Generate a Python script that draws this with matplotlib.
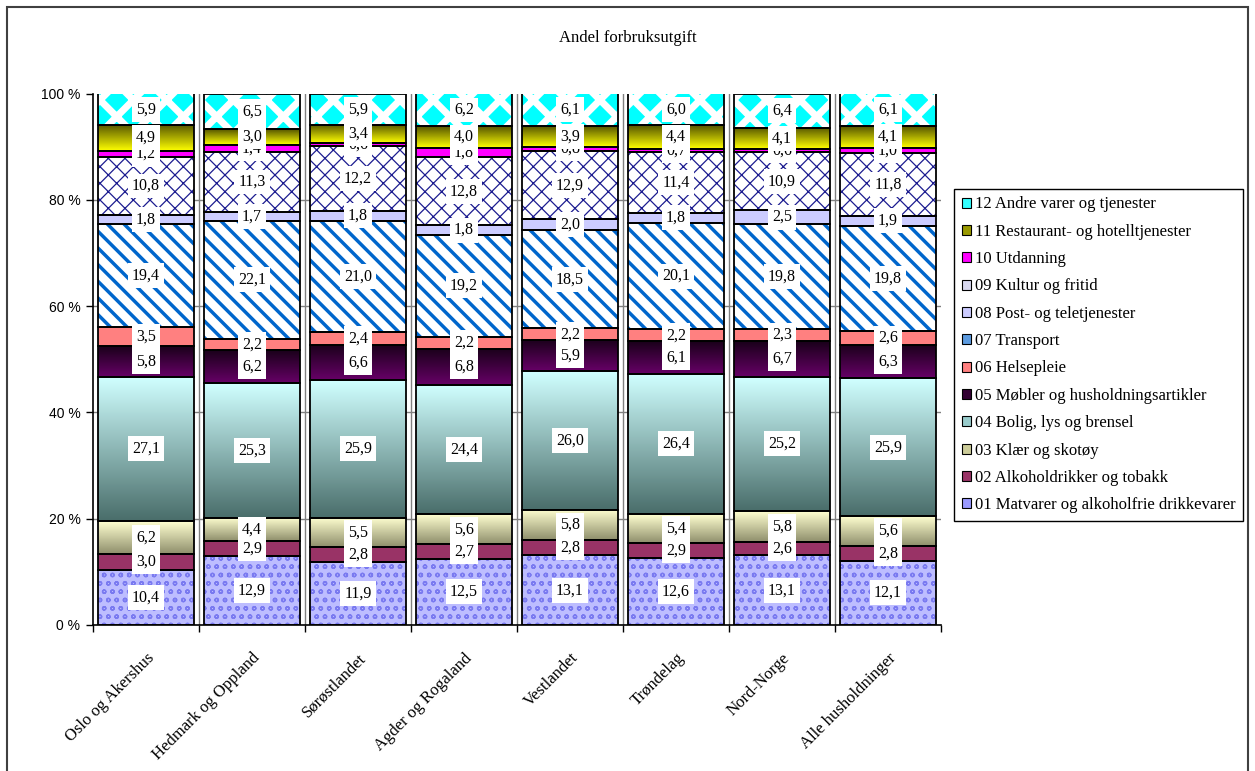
import matplotlib
matplotlib.use('Agg')
import matplotlib.pyplot as plt
import matplotlib.patches as patches
from matplotlib.colors import LinearSegmentedColormap
import numpy as np

# Data (andel forbruksutgift, prosent)
regions = ['Oslo og Akershus', 'Hedmark og Oppland', 'Sørøstlandet', 'Agder og Rogaland',
           'Vestlandet', 'Trøndelag', 'Nord-Norge', 'Alle husholdninger']
matvarer = [10.4, 12.9, 11.9, 12.5, 13.1, 12.6, 13.1, 12.1]
alkohol = [3.0, 2.9, 2.8, 2.7, 2.8, 2.9, 2.6, 2.8]
klaer = [6.2, 4.4, 5.5, 5.6, 5.8, 5.4, 5.8, 5.6]
bolig = [27.1, 25.3, 25.9, 24.4, 26.0, 26.4, 25.2, 25.9]
mobler = [5.8, 6.2, 6.6, 6.8, 5.9, 6.1, 6.7, 6.3]
helse = [3.5, 2.2, 2.4, 2.2, 2.2, 2.2, 2.3, 2.6]
transport = [19.4, 22.1, 21.0, 19.2, 18.5, 20.1, 19.8, 19.8]
post = [1.8, 1.7, 1.8, 1.8, 2.0, 1.8, 2.5, 1.9]
kultur = [10.8, 11.3, 12.2, 12.8, 12.9, 11.4, 10.9, 11.8]
utdanning = [1.2, 1.4, 0.6, 1.8, 0.8, 0.7, 0.6, 1.0]
restaurant = [4.9, 3.0, 3.4, 4.0, 3.9, 4.4, 4.1, 4.1]
andre = [5.9, 6.5, 5.9, 6.2, 6.1, 6.0, 6.4, 6.1]

names = ['01 Matvarer og alkoholfrie drikkevarer', '02 Alkoholdrikker og tobakk',
         '03 Klær og skotøy', '04 Bolig, lys og brensel', '05 Møbler og husholdningsartikler',
         '06 Helsepleie', '07 Transport', '08 Post- og teletjenester', '09 Kultur og fritid',
         '10 Utdanning', '11 Restaurant- og hotelltjenester', '12 Andre varer og tjenester']
series = [matvarer, alkohol, klaer, bolig, mobler, helse, transport, post, kultur,
          utdanning, restaurant, andre]

# style per series: face, hatch, hatch colour, hatch lw, gradient (bottom, top), legend colour
styles = [
    dict(fc='#bdbdff', hatch='oo', hc='#7a7af0', hlw=1.0, lc='#9999ff'),
    dict(fc='#993366'),
    dict(fc='#cccc99', grad=('#8f8f6c', '#ffffd0')),
    dict(fc='#99cccc', grad=('#4a6e6b', '#d0ffff')),
    dict(fc='#330033', grad=('#660066', '#1a001a')),
    dict(fc='#ff8080'),
    dict(fc='white', hatch='\\\\', hc='#0066cc', hlw=2.5, lc='#5c9be0'),
    dict(fc='#ccccff'),
    dict(fc='white', hatch='xx', hc='#1c1c90', hlw=0.9, lc='#d8d8f0'),
    dict(fc='#ff00ff'),
    dict(fc='#999900', grad=('#ffff00', '#555500')),
    dict(fc='#00ffff', hatch='x', hc='white', hlw=5.0, lc='#33ffff'),
]

SERIF = 'Liberation Serif'
SANS = 'Liberation Sans'

fig = plt.figure(figsize=(12.55, 7.71), dpi=100)
ax = fig.add_axes([93 / 1255, 1 - 625 / 771, (941 - 93) / 1255, (625 - 93.5) / 771])

x = np.arange(len(regions))
width = 0.9
bottom = np.zeros(len(regions))
for i, (vals, st) in enumerate(zip(series, styles)):
    vals = np.array(vals)
    if 'hatch' in st:
        with plt.rc_context({'hatch.linewidth': st['hlw']}):
            bars = ax.bar(x, vals, width, bottom=bottom, color=st['fc'], edgecolor=st['hc'],
                          hatch=st['hatch'], linewidth=0, zorder=2)
    else:
        bars = ax.bar(x, vals, width, bottom=bottom, color=st['fc'], linewidth=0, zorder=2)
    if 'grad' in st:
        cmap = LinearSegmentedColormap.from_list('g%d' % i, list(st['grad']))
        grad = np.linspace(0, 1, 64).reshape(-1, 1)
        for p in bars.patches:
            im = ax.imshow(grad, cmap=cmap, origin='lower', aspect='auto',
                           extent=(p.get_x(), p.get_x() + p.get_width(),
                                   p.get_y(), p.get_y() + p.get_height()),
                           interpolation='bilinear', zorder=2.5)
            im.set_clip_path(p)
    # black segment outlines
    ax.bar(x, vals, width, bottom=bottom, fill=False, edgecolor='black', linewidth=1.3, zorder=3)
    # data labels (later series cover earlier ones, as in the original)
    for xi, b, v in zip(x, bottom, vals):
        ax.text(xi, b + v / 2, f'{v:.1f}'.replace('.', ','), ha='center', va='center',
                fontsize=11.5, family=SERIF, zorder=10 + i,
                bbox=dict(boxstyle='square,pad=0.28', fc='white', ec='none'))
    bottom = bottom + vals

ax.set_xlim(-0.5, len(regions) - 0.5)
ax.set_ylim(0, 100)

ax.set_yticks(np.arange(0, 101, 20))
ax.set_yticklabels([f'{v} %' for v in range(0, 101, 20)], family=SANS, fontsize=10)
ax.set_xticks(x)
ax.set_xticklabels(regions, rotation=45, ha='right', va='top', rotation_mode='anchor',
                   family=SERIF, fontsize=12)
ax.set_xticks(np.arange(-0.5, len(regions)), minor=True)
ax.tick_params(axis='x', which='major', length=0, pad=18)
ax.tick_params(axis='x', which='minor', length=5, width=1, direction='out')
ax.tick_params(axis='y', length=5, width=1, direction='out', pad=4)

for yv in [20, 40, 60, 80]:
    ax.axhline(yv, color='#808080', lw=1, zorder=1)
for xv in np.arange(0.5, len(regions) - 0.5):
    ax.axvline(xv, color='#808080', lw=1, zorder=1)

for s in ['top', 'right']:
    ax.spines[s].set_visible(False)
for s in ['left', 'bottom']:
    ax.spines[s].set_linewidth(1.2)

fig.text(628 / 1255, 1 - 38 / 771, 'Andel forbruksutgift', ha='center', va='center',
         family=SERIF, fontsize=12)

# legend (reverse order, like the original)
handles = [patches.Patch(facecolor=st.get('lc', st['fc']), edgecolor='black', linewidth=0.8)
           for st in styles]
leg = fig.legend(handles[::-1], names[::-1], loc='upper left',
                 bbox_to_anchor=(954 / 1255, 1 - 189 / 771), borderaxespad=0,
                 prop={'family': SERIF, 'size': 12}, handlelength=0.55, handleheight=0.55,
                 handletextpad=0.25, labelspacing=0.68, borderpad=0.45,
                 fancybox=False, framealpha=1, edgecolor='black')
leg.get_frame().set_linewidth(1.0)

# outer chart border
fig.patches.append(patches.Rectangle((7 / 1255, -0.02), (1248 - 7) / 1255, 1 - 7 / 771 + 0.02,
                                     transform=fig.transFigure, fill=False,
                                     edgecolor='#404040', linewidth=1.5))

fig.savefig('out.png', dpi=100, facecolor='white')
